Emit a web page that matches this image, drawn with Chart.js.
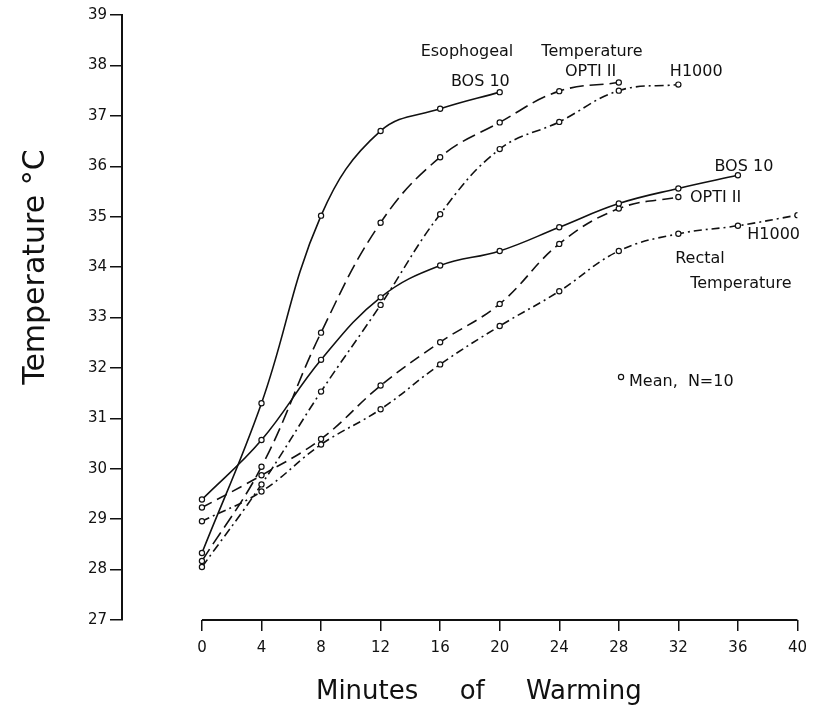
<!DOCTYPE html>
<html>
<head>
<meta charset="utf-8">
<script src="https://cdn.jsdelivr.net/npm/chart.js@4.4.0/dist/chart.umd.min.js"></script>
<style>
html, body { margin: 0; padding: 0; background: #fff; }
#wrap { position: relative; width: 815px; height: 715px; }
</style>
</head>
<body>
<div id="wrap"><canvas id="myChart"></canvas></div>
<script>
// minutes of warming (x) and temperature ticks (y)
const minutes = [0, 4, 8, 12, 16, 20, 24, 28, 32, 36, 40];
const tempTicks = [27, 28, 29, 30, 31, 32, 33, 34, 35, 36, 37, 38, 39];

// esophageal temperature, mean of N=10
const esoBos10 = [28.33, 31.30, 35.02, 36.70, 37.14, 37.47];
const esoOpti2 = [28.17, 30.04, 32.70, 34.88, 36.18, 36.87, 37.49, 37.66];
const esoH1000 = [28.05, 29.69, 31.53, 33.25, 35.05, 36.34, 36.88, 37.50, 37.62];

// rectal temperature, mean of N=10
const recBos10 = [29.39, 30.57, 32.16, 33.40, 34.03, 34.32, 34.79, 35.26, 35.56, 35.82];
const recOpti2 = [29.23, 29.87, 30.59, 31.65, 32.51, 33.27, 34.46, 35.16, 35.39];
const recH1000 = [28.96, 29.55, 30.48, 31.18, 32.07, 32.83, 33.52, 34.32, 34.66, 34.82, 35.03];

const ink = '#111';
const textFont = '16px "DejaVu Sans"';

// text placed in data units (minutes, degrees)
const notes = [
    { text: 'Esophogeal', x: 17.8, y: 38.27 },
    { text: 'Temperature', x: 26.2, y: 38.27 },
    { text: 'BOS 10', x: 18.7, y: 37.68 },
    { text: 'OPTI II', x: 26.1, y: 37.88 },
    { text: 'H1000', x: 33.2, y: 37.87 },
    { text: 'BOS 10', x: 36.4, y: 35.99 },
    { text: 'OPTI II', x: 34.5, y: 35.37 },
    { text: 'H1000', x: 38.4, y: 34.63 },
    { text: 'Rectal', x: 33.45, y: 34.16 },
    { text: 'Temperature', x: 36.2, y: 33.66 }
];

function series(label, values, dash) {
    return {
        label: label,
        data: values.map((v, i) => ({ x: minutes[i], y: v })),
        borderColor: ink,
        borderWidth: 1.6,
        borderDash: dash,
        tension: 0.4,
        pointRadius: 2.6,
        pointBorderWidth: 1.2,
        pointBackgroundColor: '#fff',
        pointBorderColor: ink,
        fill: false
    };
}

const decor = {
    id: 'decor',
    afterDraw(chart) {
        const c = chart.ctx;
        const xs = chart.scales.x, ys = chart.scales.y;
        const area = chart.chartArea;
        c.save();
        // x axis line, only over 0..40
        c.strokeStyle = ink;
        c.lineWidth = 2;
        c.beginPath();
        c.moveTo(xs.getPixelForValue(minutes[0]), area.bottom);
        c.lineTo(xs.getPixelForValue(minutes[minutes.length - 1]), area.bottom);
        c.stroke();

        c.fillStyle = ink;
        c.font = textFont;
        c.textAlign = 'center';
        c.textBaseline = 'middle';
        notes.forEach(n => c.fillText(n.text, xs.getPixelForValue(n.x), ys.getPixelForValue(n.y)));

        // key
        const kx = xs.getPixelForValue(28.15), ky = ys.getPixelForValue(31.82);
        c.lineWidth = 1.2;
        c.beginPath();
        c.arc(kx, ky, 2.6, 0, Math.PI * 2);
        c.fillStyle = '#fff';
        c.fill();
        c.stroke();
        c.fillStyle = ink;
        c.textAlign = 'left';
        c.fillText('Mean,  N=10', kx + 8, ys.getPixelForValue(31.72));

        // axis titles
        c.font = '26px "DejaVu Sans"';
        c.textAlign = 'center';
        c.fillText('Minutes     of     Warming', xs.getPixelForValue(18.6), area.bottom + 72);
        c.translate(area.left - 86, ys.getPixelForValue(34));
        c.rotate(-Math.PI / 2);
        c.font = '30px "DejaVu Sans"';
        c.fillText('Temperature °C', 0, 0);
        c.restore();
    }
};

const ctx = document.getElementById('myChart').getContext('2d');
var myChart = new Chart(ctx, {
    type: 'line',
    data: {
        datasets: [
            series('Esophageal BOS 10', esoBos10, []),
            series('Esophageal OPTI II', esoOpti2, [14, 6]),
            series('Esophageal H1000', esoH1000, [9, 4, 2, 4]),
            series('Rectal BOS 10', recBos10, []),
            series('Rectal OPTI II', recOpti2, [11, 6]),
            series('Rectal H1000', recH1000, [8, 4, 2, 4])
        ]
    },
    options: {
        responsive: true,
        maintainAspectRatio: false,
        animation: false,
        layout: { padding: { top: 15, right: 17, left: 0, bottom: 0 } },
        plugins: {
            legend: { display: false },
            tooltip: { enabled: false }
        },
        scales: {
            x: {
                type: 'linear',
                min: -5.37,
                max: 40,
                afterBuildTicks: s => { s.ticks = minutes.map(v => ({ value: v })); },
                afterFit: s => { s.height = 95; },
                border: { display: false },
                grid: { drawOnChartArea: false, drawTicks: true, tickLength: 11, color: ink, lineWidth: 1.5 },
                ticks: { color: ink, font: { family: 'DejaVu Sans', size: 15 }, padding: 8, maxRotation: 0 }
            },
            y: {
                min: 27,
                max: 39,
                afterBuildTicks: s => { s.ticks = tempTicks.map(v => ({ value: v })); },
                afterFit: s => { s.width = 122; },
                border: { display: true, color: ink, width: 2 },
                grid: { drawOnChartArea: false, drawTicks: true, tickLength: 12, color: ink, lineWidth: 1.5 },
                ticks: { color: ink, font: { family: 'DejaVu Sans', size: 15 }, padding: 3 }
            }
        }
    },
    plugins: [decor]
});
</script>
</body>
</html>
